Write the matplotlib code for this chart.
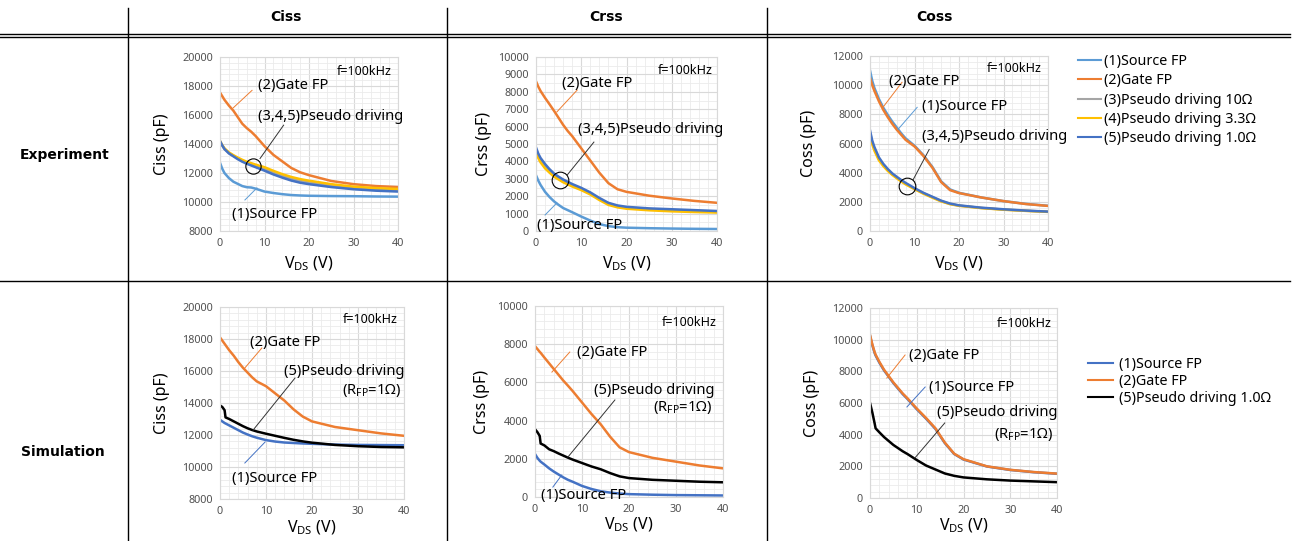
import matplotlib
matplotlib.use("Agg")

import matplotlib.pyplot as plt
from matplotlib.lines import Line2D
from matplotlib.ticker import MultipleLocator, AutoMinorLocator

plt.rcParams["font.family"] = ["Noto Sans", "DejaVu Sans"]
plt.rcParams["mathtext.default"] = "regular"

# ---------- Data ----------
vds_exp = [0, 0.5, 1, 2, 3, 4, 5, 6, 7, 8, 10, 12, 14, 16, 18, 20, 25, 30, 35, 40]
vds_sim = [0, 0.5, 1, 1.2, 2, 3, 4, 5, 6, 7, 8, 10, 12, 14, 16, 18, 20, 25, 30, 35, 40]

# Experiment - Ciss
ciss_exp_src = [12700, 12300, 12000, 11650, 11400, 11250, 11100, 11020, 11000, 10920,
                10720, 10620, 10540, 10480, 10450, 10430, 10410, 10400, 10380, 10370]
ciss_exp_gate = [17550, 17300, 17050, 16650, 16300, 15850, 15400, 15100, 14850, 14550,
                 13850, 13250, 12800, 12350, 12050, 11850, 11450, 11230, 11100, 11030]
ciss_exp_p10 = [14200, 13910, 13670, 13380, 13190, 13000, 12840, 12710, 12600, 12490,
                12280, 12020, 11800, 11600, 11450, 11350, 11130, 10970, 10870, 10810]
ciss_exp_p33 = [14200, 13920, 13700, 13420, 13230, 13060, 12910, 12780, 12680, 12580,
                12400, 12150, 11920, 11730, 11580, 11470, 11230, 11060, 10960, 10900]
ciss_exp_p10b = [14200, 13900, 13650, 13350, 13150, 12950, 12780, 12640, 12520, 12400,
                 12160, 11900, 11680, 11480, 11330, 11230, 11030, 10880, 10780, 10720]

# Experiment - Crss
crss_exp_src = [3200, 2900, 2650, 2250, 1950, 1700, 1500, 1320, 1200, 1080,
                830, 600, 400, 280, 220, 190, 160, 140, 125, 115]
crss_exp_gate = [8600, 8300, 8050, 7650, 7280, 6900, 6500, 6100, 5750, 5450,
                 4750, 4050, 3350, 2750, 2400, 2250, 2030, 1870, 1730, 1620]
crss_exp_p10 = [4650, 4320, 4070, 3720, 3450, 3210, 3040, 2880, 2750, 2630,
                2410, 2160, 1840, 1560, 1410, 1330, 1240, 1190, 1140, 1100]
crss_exp_p33 = [4500, 4200, 3950, 3600, 3350, 3120, 2960, 2800, 2680, 2560,
                2350, 2100, 1780, 1500, 1360, 1280, 1190, 1130, 1090, 1060]
crss_exp_p10b = [4800, 4450, 4200, 3850, 3550, 3300, 3120, 2960, 2830, 2700,
                 2480, 2220, 1900, 1620, 1470, 1390, 1300, 1250, 1200, 1150]

# Experiment - Coss
coss_exp_src = [11000, 10300, 9800, 9050, 8450, 7950, 7500, 7100, 6700, 6350,
                5850, 5200, 4400, 3400, 2850, 2620, 2300, 2050, 1860, 1730]
coss_exp_gate = [10500, 10000, 9600, 8900, 8300, 7800, 7350, 6950, 6600, 6250,
                 5800, 5150, 4350, 3350, 2800, 2600, 2300, 2050, 1850, 1720]
coss_exp_p10 = [6750, 6080, 5620, 4950, 4520, 4180, 3900, 3670, 3450, 3250,
                2900, 2590, 2320, 2050, 1860, 1740, 1580, 1470, 1390, 1320]
coss_exp_p33 = [6600, 5950, 5500, 4850, 4450, 4120, 3850, 3620, 3400, 3200,
                2870, 2560, 2290, 2030, 1840, 1730, 1570, 1460, 1380, 1310]
coss_exp_p10b = [6900, 6200, 5750, 5050, 4600, 4250, 3950, 3720, 3500, 3300,
                 2940, 2620, 2350, 2080, 1880, 1760, 1600, 1490, 1400, 1330]

# Simulation - Ciss
ciss_sim_src = [12950, 12850, 12750, 12720, 12600, 12450, 12300, 12150, 12030, 11920, 11830,
                11680, 11590, 11530, 11500, 11470, 11450, 11400, 11380, 11370, 11360]
ciss_sim_gate = [18100, 17900, 17700, 17620, 17300, 16950, 16550, 16200, 15900, 15600, 15350,
                 15050, 14600, 14150, 13600, 13150, 12850, 12500, 12300, 12100, 11950]
ciss_sim_pd = [13850, 13750, 13550, 13100, 13000, 12850, 12700, 12550, 12420, 12310, 12220,
               12080, 11950, 11820, 11700, 11600, 11520, 11380, 11300, 11250, 11230]

# Simulation - Crss
crss_sim_src = [2250, 2050, 1900, 1850, 1700, 1500, 1330, 1180, 1030, 900, 800,
                580, 420, 300, 230, 180, 150, 120, 100, 90, 80]
crss_sim_gate = [7900, 7750, 7600, 7550, 7300, 7000, 6700, 6400, 6100, 5830, 5550,
                 4950, 4350, 3800, 3150, 2600, 2350, 2050, 1850, 1650, 1500]
crss_sim_pd = [3550, 3400, 3200, 2800, 2700, 2500, 2400, 2280, 2170, 2060, 1960,
               1780, 1600, 1450, 1250, 1080, 990, 900, 850, 800, 770]

# Simulation - Coss
coss_sim_src = [10250, 9650, 9150, 9000, 8550, 8060, 7660, 7260, 6910, 6560, 6260,
                5610, 5010, 4360, 3470, 2780, 2430, 1990, 1770, 1630, 1530]
coss_sim_gate = [10300, 9700, 9200, 9050, 8600, 8100, 7700, 7300, 6950, 6600, 6300,
                 5650, 5050, 4400, 3500, 2800, 2450, 2000, 1780, 1640, 1540]
coss_sim_pd = [6000, 5400, 4700, 4400, 4150, 3850, 3600, 3350, 3150, 2950, 2780,
               2400, 2050, 1800, 1550, 1400, 1300, 1180, 1100, 1050, 1000]

exp_labels = ["(1)Source FP", "(2)Gate FP", "(3)Pseudo driving 10Ω",
              "(4)Pseudo driving 3.3Ω", "(5)Pseudo driving 1.0Ω"]
sim_labels = ["(1)Source FP", "(2)Gate FP", "(5)Pseudo driving 1.0Ω"]

exp_colors = ["#5B9BD5", "#ED7D31", "#A5A5A5", "#FFC000", "#4472C4"]
sim_colors = ["#4472C4", "#ED7D31", "#000000"]

W, H = 1301, 541
NOTE_SIZE = 10.6


def fx(px):
    return px / W


def fy(py):
    return 1 - py / H


# ---------- Figure ----------
fig = plt.figure(figsize=(W / 100, H / 100), dpi=100)


def make_axes(px_box, ylim, ystep, yminor, ylabel, ylab_x, xlab_y):
    x0, x1, ytop, ybot = px_box
    ax = fig.add_axes([fx(x0), fy(ybot), (x1 - x0) / W, (ybot - ytop) / H])
    ax.set_xlim(0, 40)
    ax.set_ylim(*ylim)
    ax.xaxis.set_major_locator(MultipleLocator(10))
    ax.xaxis.set_minor_locator(AutoMinorLocator(5))
    ax.yaxis.set_major_locator(MultipleLocator(ystep))
    ax.yaxis.set_minor_locator(AutoMinorLocator(yminor))
    ax.grid(True, which="major", color="#D9D9D9", lw=0.8)
    ax.grid(True, which="minor", color="#EBEBEB", lw=0.6)
    ax.set_axisbelow(True)
    ax.tick_params(which="both", length=0, labelsize=7.8, labelcolor="#505050", pad=5)
    for s in ax.spines.values():
        s.set_color("#D9D9D9")
        s.set_linewidth(0.8)
    ax.set_ylabel(ylabel, fontsize=11.5)
    ax.yaxis.set_label_coords(ylab_x, 0.5)
    ax.set_xlabel("V$_{DS}$ (V)", fontsize=11.5)
    ax.xaxis.set_label_coords(0.5, xlab_y)
    return ax


def note(ax, text, xy, ha="left", size=NOTE_SIZE):
    ax.text(xy[0], xy[1], text, ha=ha, va="center", fontsize=size)


def leader(ax, p0, p1, color):
    ax.plot([p0[0], p1[0]], [p0[1], p1[1]], color=color, lw=0.7)


def freq(ax, xy):
    ax.text(xy[0], xy[1], "f=100kHz", ha="right", va="center", fontsize=9)


# ---------- Experiment row ----------
ax1 = make_axes((220, 398, 57, 231), (8000, 20000), 2000, 5, "Ciss (pF)", -0.28, -0.135)
ax2 = make_axes((536, 717, 57, 231), (0, 10000), 1000, 2, "Crss (pF)", -0.243, -0.135)
ax3 = make_axes((870, 1048, 56, 231), (0, 12000), 2000, 5, "Coss (pF)", -0.30, -0.135)

exp_sets = [
    (ax1, [ciss_exp_src, ciss_exp_gate, ciss_exp_p10, ciss_exp_p33, ciss_exp_p10b]),
    (ax2, [crss_exp_src, crss_exp_gate, crss_exp_p10, crss_exp_p33, crss_exp_p10b]),
    (ax3, [coss_exp_src, coss_exp_gate, coss_exp_p10, coss_exp_p33, coss_exp_p10b]),
]
for ax, series in exp_sets:
    exp_handles = []
    for vals, col, lab in zip(series, exp_colors, exp_labels):
        ln, = ax.plot(vds_exp, vals, color=col, lw=1.8, label=lab)
        exp_handles.append(ln)

# annotations - Ciss exp
freq(ax1, (38.6, 18970))
note(ax1, "(2)Gate FP", (8.5, 18000))
leader(ax1, (3.0, 16500), (7.2, 17700), exp_colors[1])
note(ax1, "(3,4,5)Pseudo driving", (8.5, 15930))
ax1.plot([7.4], [12480], marker="o", ms=11, mfc="none", mec="black", mew=0.8)
leader(ax1, (9.0, 13000), (14.3, 15300), "#333333")
note(ax1, "(1)Source FP", (2.7, 9170))
leader(ax1, (5.6, 10140), (8.3, 10970), exp_colors[0])

# annotations - Crss exp
freq(ax2, (39.0, 9250))
note(ax2, "(2)Gate FP", (5.7, 8500))
leader(ax2, (4.6, 6840), (9.1, 8100), exp_colors[1])
note(ax2, "(3,4,5)Pseudo driving", (9.3, 5860))
ax2.plot([5.3], [2930], marker="o", ms=12, mfc="none", mec="black", mew=0.8)
leader(ax2, (6.9, 3220), (12.8, 5110), "#333333")
note(ax2, "(1)Source FP", (0.2, 340))
leader(ax2, (2.0, 920), (4.6, 1610), exp_colors[0])

# annotations - Coss exp
freq(ax3, (38.5, 11170))
note(ax3, "(2)Gate FP", (4.3, 10280))
leader(ax3, (2.9, 8480), (7.2, 10200), exp_colors[1])
note(ax3, "(1)Source FP", (11.7, 8550))
leader(ax3, (6.3, 6970), (10.6, 8480), exp_colors[0])
note(ax3, "(3,4,5)Pseudo driving", (11.7, 6480))
ax3.plot([8.3], [3100], marker="o", ms=12, mfc="none", mec="black", mew=0.8)
leader(ax3, (9.7, 3520), (13.3, 5590), "#333333")

# ---------- Simulation row ----------
ax4 = make_axes((220, 404, 307, 499), (8000, 20000), 2000, 5, "Ciss (pF)", -0.27, -0.10)
ax5 = make_axes((535, 723, 306, 497), (0, 10000), 2000, 5, "Crss (pF)", -0.24, -0.10)
ax6 = make_axes((870, 1057, 308, 498), (0, 12000), 2000, 5, "Coss (pF)", -0.27, -0.10)

sim_sets = [
    (ax4, [ciss_sim_src, ciss_sim_gate, ciss_sim_pd]),
    (ax5, [crss_sim_src, crss_sim_gate, crss_sim_pd]),
    (ax6, [coss_sim_src, coss_sim_gate, coss_sim_pd]),
]
for ax, series in sim_sets:
    sim_handles = []
    for vals, col, lab in zip(series, sim_colors, sim_labels):
        ln, = ax.plot(vds_sim, vals, color=col, lw=1.8, label=lab)
        sim_handles.append(ln)

# annotations - Ciss sim
freq(ax4, (38.7, 19190))
note(ax4, "(2)Gate FP", (6.5, 17810))
leader(ax4, (5.4, 16190), (9.1, 17440), sim_colors[1])
note(ax4, "(5)Pseudo driving", (13.9, 15940))
note(ax4, "(R$_{FP}$=1Ω)", (39.4, 14810), ha="right")
leader(ax4, (7.2, 12310), (16.3, 15560), "#333333")
note(ax4, "(1)Source FP", (2.6, 9310))
leader(ax4, (5.4, 10250), (9.8, 11560), sim_colors[0])

# annotations - Crss sim
freq(ax5, (38.7, 9110))
note(ax5, "(2)Gate FP", (8.9, 7540))
leader(ax5, (3.6, 6540), (7.4, 7590), sim_colors[1])
note(ax5, "(5)Pseudo driving", (12.6, 5600))
note(ax5, "(R$_{FP}$=1Ω)", (37.7, 4660), ha="right")
leader(ax5, (7.0, 2090), (17.0, 5080), "#333333")
note(ax5, "(1)Source FP", (1.3, 100))
leader(ax5, (3.8, 520), (5.7, 1150), sim_colors[0])

# annotations - Coss sim
freq(ax6, (38.9, 11050))
note(ax6, "(2)Gate FP", (8.3, 9030))
leader(ax6, (3.6, 7580), (7.5, 9030), sim_colors[1])
note(ax6, "(1)Source FP", (12.6, 7010))
leader(ax6, (7.9, 5750), (11.8, 7010), sim_colors[0])
note(ax6, "(5)Pseudo driving", (14.3, 5370))
note(ax6, "(R$_{FP}$=1Ω)", (39.1, 3980), ha="right")
leader(ax6, (9.6, 2530), (16.0, 4740), "#333333")

# ---------- Legends ----------
fig.legend(handles=exp_handles, loc="upper left", bbox_to_anchor=(fx(1078), fy(54)),
           frameon=False, fontsize=10.3, handlelength=1.6, handletextpad=0.25,
           labelspacing=0.3, borderaxespad=0, borderpad=0)
fig.legend(handles=sim_handles, loc="upper left", bbox_to_anchor=(fx(1088), fy(357)),
           frameon=False, fontsize=10.3, handlelength=1.75, handletextpad=0.45,
           labelspacing=0.14, borderaxespad=0, borderpad=0)
for leg in fig.legends:
    for ln in leg.get_lines():
        ln.set_linewidth(1.5)

# ---------- Table frame ----------
for xv in (128, 447, 767):
    fig.add_artist(Line2D([fx(xv), fx(xv)], [fy(8), fy(541)], color="black", lw=1.0))
for yv in (33.5, 36.5):
    fig.add_artist(Line2D([0, fx(1290)], [fy(yv), fy(yv)], color="black", lw=1.0))
fig.add_artist(Line2D([0, fx(1290)], [fy(281), fy(281)], color="black", lw=1.0))

bold = dict(ha="center", va="center", fontsize=10, fontweight="bold", family="DejaVu Sans")
for xt, txt in [(286, "Ciss"), (606, "Crss"), (934, "Coss")]:
    fig.text(fx(xt), fy(17), txt, **bold)
fig.text(fx(65), fy(155), "Experiment", **bold)
fig.text(fx(63), fy(452), "Simulation", **bold)

fig.savefig("out.png", dpi=100)
